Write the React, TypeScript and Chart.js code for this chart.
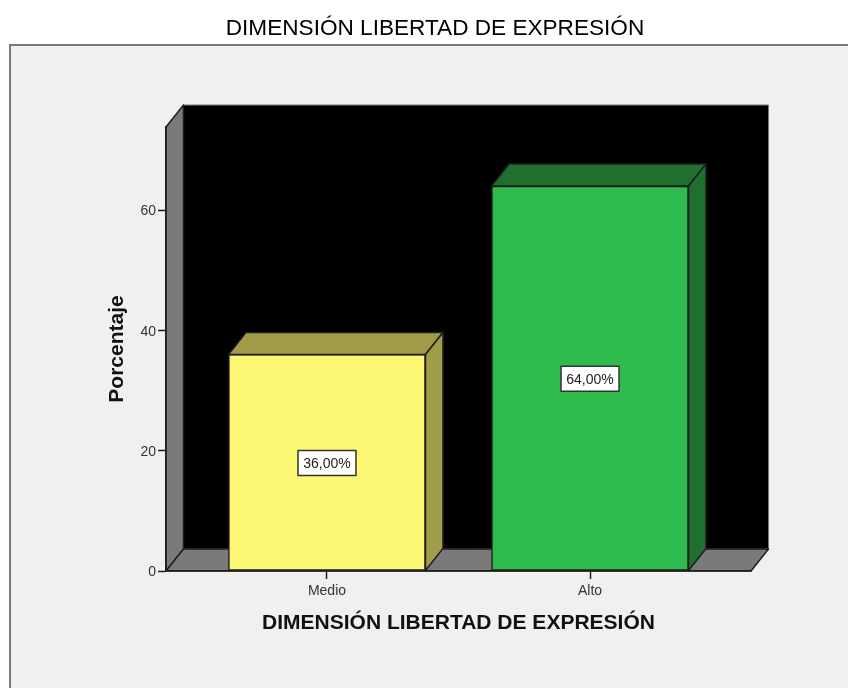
import React, { useEffect, useRef } from "react";
import { Chart, registerables } from "chart.js";

Chart.register(...registerables);

const chartTitle = "DIMENSIÓN LIBERTAD DE EXPRESIÓN";
const xAxisTitle = "DIMENSIÓN LIBERTAD DE EXPRESIÓN";
const yAxisTitle = "Porcentaje";
const categories = ["Medio", "Alto"];
const percentages = [36, 64];
const valueLabels = ["36,00%", "64,00%"];
const frontColors = ["#fcf874", "#2fba4e"];
const topColors = ["#a09c4a", "#1f6f2f"];

const DX = 17.5;
const DY = -22;
const LINE = "#1e1e1e";
const FONT = '"Liberation Sans", Arial, sans-serif';

function poly(ctx: CanvasRenderingContext2D, pts: number[][], fill: string, stroke = LINE, lw = 1.5) {
  ctx.beginPath();
  pts.forEach(([x, y], i) => (i ? ctx.lineTo(x, y) : ctx.moveTo(x, y)));
  ctx.closePath();
  ctx.fillStyle = fill;
  ctx.fill();
  ctx.lineWidth = lw;
  ctx.strokeStyle = stroke;
  ctx.stroke();
}

const frame3d = {
  id: "frame3d",
  beforeDraw(chart: any) {
    const { ctx, chartArea: a } = chart;
    const { left: l, right: r, top: t, bottom: b } = a;
    ctx.save();
    ctx.lineJoin = "round";
    poly(ctx, [[l + DX, t + DY], [r + DX, t + DY], [r + DX, b + DY], [l + DX, b + DY]], "#000000", "#777777", 1);
    poly(ctx, [[l, t], [l + DX, t + DY], [l + DX, b + DY], [l, b]], "#7a7a7a");
    poly(ctx, [[l, b], [l + DX, b + DY], [r + DX, b + DY], [r, b]], "#7a7a7a");
    ctx.restore();
  },
  afterDatasetsDraw(chart: any) {
    const { ctx } = chart;
    const meta = chart.getDatasetMeta(0);
    ctx.save();
    ctx.lineJoin = "round";
    meta.data.forEach((bar: any, i: number) => {
      const { x, y, base, width } = bar.getProps(["x", "y", "base", "width"], true);
      const l = x - width / 2;
      const r = x + width / 2;
      poly(ctx, [[l, y], [l + DX, y + DY], [r + DX, y + DY], [r, y]], topColors[i]);
      poly(ctx, [[r, y], [r + DX, y + DY], [r + DX, base + DY], [r, base]], topColors[i]);
    });
    meta.data.forEach((bar: any, i: number) => {
      const { x, y, base } = bar.getProps(["x", "y", "base"], true);
      const cy = (y + base) / 2;
      ctx.font = `14px ${FONT}`;
      const w = 58;
      const h = 25;
      ctx.fillStyle = "#ffffff";
      ctx.strokeStyle = "#333333";
      ctx.lineWidth = 1.5;
      ctx.fillRect(x - w / 2, cy - h / 2 + 0.5, w, h);
      ctx.strokeRect(x - w / 2, cy - h / 2 + 0.5, w, h);
      ctx.fillStyle = "#222222";
      ctx.textAlign = "center";
      ctx.textBaseline = "middle";
      ctx.fillText(valueLabels[i], x, cy + 1.5);
    });
    ctx.restore();
  },
};

export default function App() {
  const ref = useRef<HTMLCanvasElement>(null);
  useEffect(() => {
    const chart = new Chart(ref.current!, {
      type: "bar",
      data: {
        datasets: [
          {
            data: percentages.map((y, i) => ({ x: i, y })),
            backgroundColor: frontColors,
            borderColor: LINE,
            borderWidth: 1.5,
            borderSkipped: false,
            barThickness: 197,
          },
        ],
      },
      plugins: [frame3d],
      options: {
        animation: false,
        responsive: false,
        devicePixelRatio: 1,
        plugins: {
          legend: { display: false },
          tooltip: { enabled: false },
          title: {
            display: true,
            text: chartTitle,
            color: "#000000",
            font: { family: FONT, size: 22.6, weight: "normal", lineHeight: 1.2 },
            padding: { top: 15.5, bottom: 84.4 },
          },
        },
        scales: {
          x: {
            type: "linear",
            offset: false,
            min: -0.612,
            max: 1.612,
            afterBuildTicks: (s: any) => {
              s.ticks = categories.map((_, i) => ({ value: i }));
            },
            afterFit: (s: any) => {
              s.height = 117;
            },
            grid: { offset: false, drawOnChartArea: false, tickLength: 8, tickColor: LINE, tickWidth: 1.5 },
            border: { color: LINE, width: 1.5 },
            ticks: {
              color: "#333333",
              font: { family: FONT, size: 14 },
              padding: 4,
              maxRotation: 0,
              callback: (v: any) => categories[v as number],
            },
            title: {
              display: true,
              text: xAxisTitle,
              color: "#111111",
              font: { family: FONT, size: 21, weight: "bold", lineHeight: 1.2 },
              padding: { top: 0, bottom: 52 },
            },
          },
          y: {
            min: 0,
            max: 73.8,
            afterFit: (s: any) => {
              s.width = 144;
            },
            grid: { drawOnChartArea: false, tickLength: 8, tickColor: LINE, tickWidth: 1.5 },
            border: { color: LINE, width: 1.5 },
            ticks: {
              stepSize: 20,
              includeBounds: false,
              color: "#333333",
              font: { family: FONT, size: 14 },
              padding: 2,
              labelOffset: 1.5,
            },
            title: {
              display: true,
              text: yAxisTitle,
              color: "#111111",
              font: { family: FONT, size: 21, weight: "bold", lineHeight: 1.2 },
              padding: { top: 82.5, bottom: 0 },
            },
          },
          spacer: {
            type: "linear",
            position: "right",
            grid: { display: false },
            border: { display: false },
            ticks: { display: false },
            afterFit: (s: any) => {
              s.width = 97;
            },
          },
        },
      } as any,
    });
    return () => chart.destroy();
  }, []);

  return (
    <div style={{ position: "absolute", left: 0, top: 0, width: 848, height: 688, background: "#ffffff", overflow: "hidden" }}>
      <div
        style={{
          position: "absolute",
          left: 9,
          top: 44,
          right: 0,
          bottom: 0,
          background: "#f0f0f0",
          borderLeft: "2px solid #7a7a7a",
          borderTop: "2px solid #7a7a7a",
        }}
      />
      <canvas ref={ref} width={826} height={688} style={{ position: "absolute", left: 22, top: 0, width: 826, height: 688 }} />
    </div>
  );
}
